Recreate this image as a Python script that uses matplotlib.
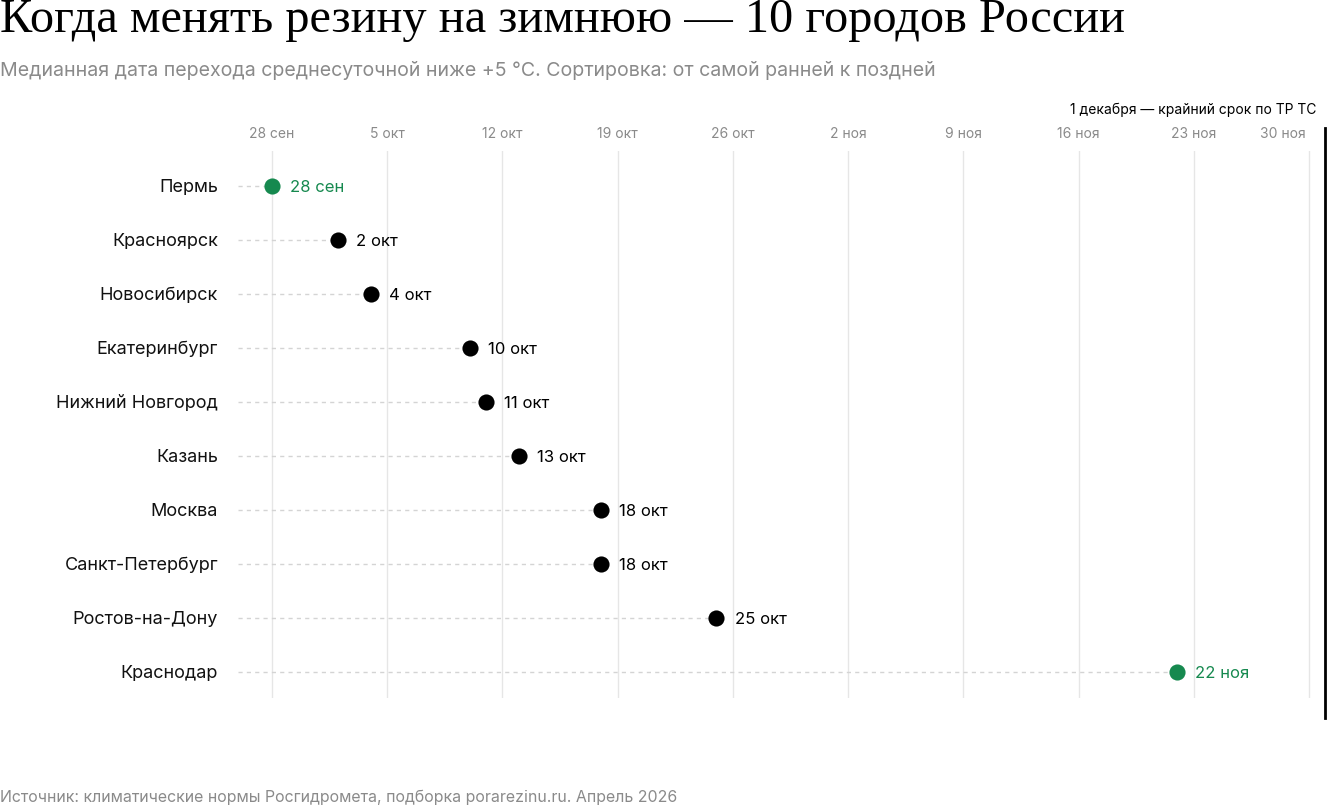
import matplotlib
matplotlib.use("Agg")
import matplotlib.pyplot as plt
from datetime import date

cities = ["Пермь", "Красноярск", "Новосибирск", "Екатеринбург", "Нижний Новгород",
          "Казань", "Москва", "Санкт-Петербург", "Ростов-на-Дону", "Краснодар"]
dates = ["2025-09-28", "2025-10-02", "2025-10-04", "2025-10-10", "2025-10-11",
         "2025-10-13", "2025-10-18", "2025-10-18", "2025-10-25", "2025-11-22"]
value_labels = ["28 сен", "2 окт", "4 окт", "10 окт", "11 окт",
                "13 окт", "18 окт", "18 окт", "25 окт", "22 ноя"]
highlight = [True, False, False, False, False, False, False, False, False, True]
tick_dates = ["2025-09-28", "2025-10-05", "2025-10-12", "2025-10-19", "2025-10-26",
              "2025-11-02", "2025-11-09", "2025-11-16", "2025-11-23", "2025-11-30"]
tick_labels = ["28 сен", "5 окт", "12 окт", "19 окт", "26 окт",
               "2 ноя", "9 ноя", "16 ноя", "23 ноя", "30 ноя"]
deadline = "2025-12-01"
deadline_label = "1 декабря — крайний срок по ТР ТС"

base = date(2025, 9, 28)
def day(s):
    return (date.fromisoformat(s) - base).days

x = [day(d) for d in dates]
ticks = [day(d) for d in tick_dates]
dl = day(deadline)

GREEN = "#16894f"
W, H = 1327, 806
fig = plt.figure(figsize=(W / 100, H / 100), dpi=100)
ax_left, ax_right = 238, 1327
ax_top, ax_bot = 151, 698
ax = fig.add_axes([ax_left / W, 1 - ax_bot / H, (ax_right - ax_left) / W, (ax_bot - ax_top) / H])

px_per_day = (1309 - 272) / 63
ax.set_xlim((ax_left - 272) / px_per_day, (ax_right - 272) / px_per_day)
row_px = 54
ax.set_ylim(9 + (ax_bot - 672) / row_px, -(186 - ax_top) / row_px)

for s in ax.spines.values():
    s.set_visible(False)
ax.set_yticks([])
ax.set_xticks([])

for t in ticks:
    ax.axvline(t, color="#e6e6e6", lw=1, zorder=0)

xmin = ax.get_xlim()[0]
city_x = (218 - 272) / px_per_day
for i, (xi, lab, hl) in enumerate(zip(x, value_labels, highlight)):
    ax.plot([xmin, xi], [i, i], color="#d4d4d4", lw=1, ls=(0, (3, 3)), zorder=1)
    c = GREEN if hl else "black"
    ax.scatter([xi], [i], s=135, color=c, zorder=3, linewidths=0)
    ax.text(xi + 1.1, i + 0.03, lab, color=c, fontsize=12, family="Inter", va="center", ha="left")
    ax.text(city_x, i + 0.02, cities[i], color="#111111", fontsize=13, family="Inter",
            va="center", ha="right", clip_on=False)

tick_y = -(186 - 134) / row_px
for k, (t, lab) in enumerate(zip(ticks, tick_labels)):
    if k == len(ticks) - 1:
        ax.text(t - 3 / px_per_day, tick_y, lab, color="#8a8a8a", fontsize=10, family="Inter",
                ha="right", va="center", clip_on=False)
    else:
        ax.text(t, tick_y, lab, color="#8a8a8a", fontsize=10, family="Inter",
                ha="center", va="center", clip_on=False)

# deadline line
ax.plot([dl, dl], [-(186 - 128) / row_px, 9 + (718 - 672) / row_px], color="black", lw=2,
        clip_on=False, zorder=4)
ax.text(1316 / W, 1 - 110 / H, deadline_label, transform=fig.transFigure,
        ha="right", va="center", fontsize=10, family="Inter", color="black")

fig.text(0, 1 - 20 / H, "Когда менять резину на зимнюю — 10 городов России",
         family="Liberation Serif", fontsize=34.8, va="center", ha="left", color="black")
fig.text(0, 1 - 71 / H, "Медианная дата перехода среднесуточной ниже +5 °C. Сортировка: от самой ранней к поздней",
         family="Inter", fontsize=14.1, va="center", ha="left", color="#8a8a8a")
fig.text(0, 1 - 797 / H, "Источник: климатические нормы Росгидромета, подборка porarezinu.ru. Апрель 2026",
         family="Inter", fontsize=11.45, va="center", ha="left", color="#8a8a8a")

fig.savefig("out.png", dpi=100)
